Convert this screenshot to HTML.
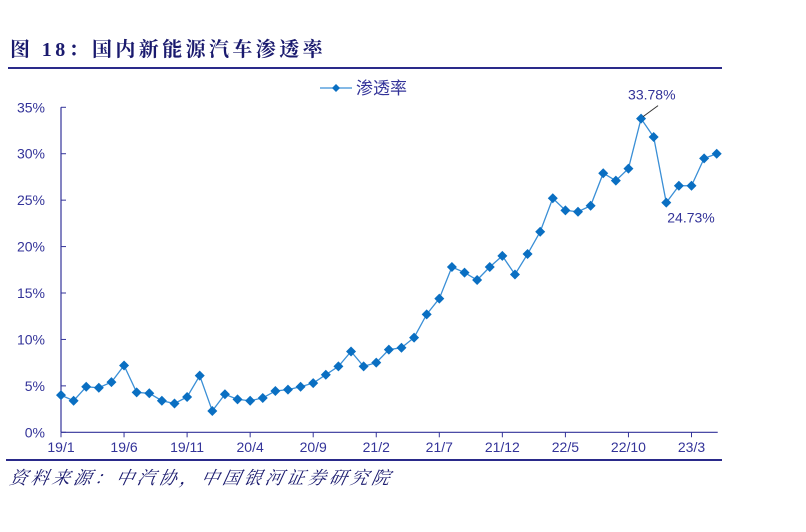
<!DOCTYPE html>
<html><head><meta charset="utf-8"><style>
body{margin:0;background:#fff;width:806px;height:532px;overflow:hidden;position:relative;font-family:"Liberation Sans","Noto Sans CJK SC",sans-serif}
.t{position:absolute;white-space:nowrap}
</style></head><body>
<div class="t" style="left:10px;top:33px;font-family:'Liberation Serif','Noto Serif CJK SC',serif;font-weight:bold;font-size:20px;color:#1a1a6e;letter-spacing:3.4px">图 18：国内新能源汽车渗透率</div>
<div style="position:absolute;left:8px;top:67px;width:714px;height:1.5px;background:#2a2a8a"></div>
<div style="position:absolute;left:6px;top:459px;width:716px;height:1.5px;background:#2a2a8a"></div>
<div class="t" style="left:10px;top:464px;font-family:'Liberation Serif','Noto Serif CJK SC',serif;font-style:italic;font-size:18px;color:#1a1a6e;letter-spacing:3.3px;transform:skewX(-12deg)">资料来源：中汽协，中国银河证券研究院</div>
<svg id="c" width="806" height="532" style="position:absolute;left:0;top:0"></svg>
<script>
const categories=["19/1","19/2","19/3","19/4","19/5","19/6","19/7","19/8","19/9","19/10","19/11","19/12","20/1","20/2","20/3","20/4","20/5","20/6","20/7","20/8","20/9","20/10","20/11","20/12","21/1","21/2","21/3","21/4","21/5","21/6","21/7","21/8","21/9","21/10","21/11","21/12","22/1","22/2","22/3","22/4","22/5","22/6","22/7","22/8","22/9","22/10","22/11","22/12","23/1","23/2","23/3","23/4","23/5"];
const values=[4.0,3.4,4.9,4.8,5.4,7.2,4.3,4.2,3.4,3.1,3.8,6.1,2.3,4.1,3.55,3.4,3.7,4.45,4.6,4.9,5.3,6.2,7.1,8.7,7.1,7.5,8.9,9.1,10.2,12.7,14.4,17.8,17.2,16.4,17.8,19.0,17.0,19.2,21.6,25.2,23.9,23.75,24.4,27.9,27.1,28.4,33.78,31.8,24.73,26.55,26.55,29.5,30.0];
const yTicks=[0,5,10,15,20,25,30,35];
const xLabelIdx=[0,5,10,15,20,25,30,35,40,45,50];
const ns="http://www.w3.org/2000/svg",svg=document.getElementById('c');
const X0=61,STEP=12.61,Y0=432.3,YPX=9.286;
const x=i=>X0+i*STEP, y=v=>Y0-v*YPX;
function mk(t,a){const e=document.createElementNS(ns,t);for(const k in a)e.setAttribute(k,a[k]);svg.appendChild(e);return e;}
const col="#333399";
let e=mk('line',{x1:X0,y1:y(0),x2:X0,y2:y(35),stroke:col,'stroke-width':1.2});


e=mk('line',{x1:X0,y1:y(0),x2:x(categories.length-1)+1,y2:y(0),stroke:col,'stroke-width':1.2});


yTicks.forEach(v=>{
 mk('line',{x1:X0,y1:y(v),x2:X0+5,y2:y(v),stroke:col,'stroke-width':1});
 const t=mk('text',{x:45,y:y(v)+5,'text-anchor':'end','font-size':14,fill:col});t.textContent=v+'%';
 
 
});
xLabelIdx.forEach(i=>{
 mk('line',{x1:x(i),y1:y(0),x2:x(i),y2:y(0)+5,stroke:col,'stroke-width':1});
 const t=mk('text',{x:x(i),y:452,'text-anchor':'middle','font-size':14,fill:col});t.textContent=categories[i];
 
 
});
const line=mk('polyline',{points:values.map((v,i)=>x(i)+','+y(v)).join(' '),fill:'none',stroke:'#3a8fd6','stroke-width':1.3});


values.forEach((v,i)=>{
 const cx=x(i),cy=y(v);
 const p=mk('polygon',{points:`${cx},${cy-5} ${cx+5},${cy} ${cx},${cy+5} ${cx-5},${cy}`,fill:'#0a6fc2'});
 
 
});
const iMax=values.indexOf(Math.max(...values));
mk('line',{x1:x(iMax)+2,y1:y(values[iMax])-2,x2:x(iMax)+17,y2:y(values[iMax])-13,stroke:'#333','stroke-width':1});
let a=mk('text',{x:x(iMax)-13,y:y(values[iMax])-19,'font-size':14,fill:col});a.textContent=values[iMax].toFixed(2)+'%';


a=mk('text',{x:x(48)+1,y:y(values[48])+20,'font-size':14,fill:col});a.textContent=values[48].toFixed(2)+'%';


mk('line',{x1:320,y1:88,x2:352,y2:88,stroke:'#3a8fd6','stroke-width':1.3});
mk('polygon',{points:'336,84 340,88 336,92 332,88',fill:'#0a6fc2'});
a=mk('text',{x:356,y:94,'font-size':17,fill:col});a.textContent='渗透率';


</script>
</body></html>
